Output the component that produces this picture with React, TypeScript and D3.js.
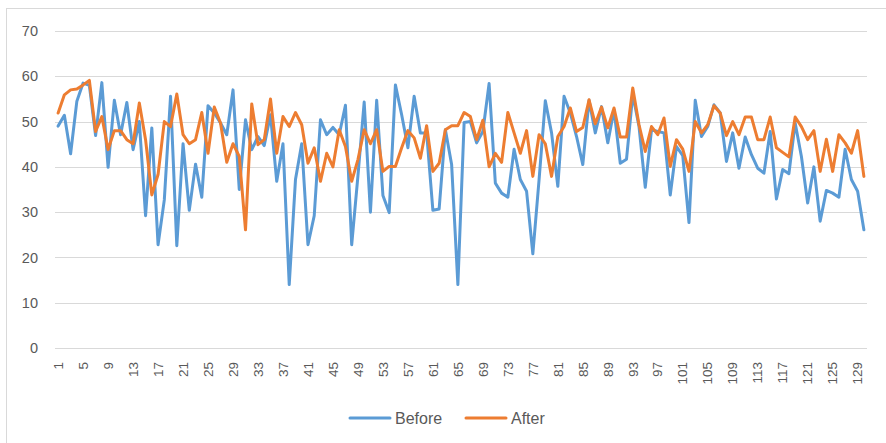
import React from 'react';
import * as d3 from 'd3';

const beforeVals: number[] = [
  49, 51.4, 42.9, 54.5, 58.5, 58, 46.9, 58.6, 39.9, 54.7,
  47.1, 54.2, 43.8, 50, 29.2, 48.6, 22.8, 32.7, 55.6, 22.6,
  45.1, 30.4, 40.6, 33.3, 53.5, 51.9, 49.7, 47.1, 57, 35,
  50.4, 43.8, 46.7, 44.7, 51.5, 36.8, 45.1, 14, 37.2, 45.1,
  22.8, 29.2, 50.4, 47.1, 48.7, 47.1, 53.6, 22.8, 38, 54.3,
  30, 54.7, 33.7, 29.9, 58.1, 51.5, 44.2, 55.6, 47.5, 47.5,
  30.4, 30.7, 48.2, 40.5, 14, 49.8, 50, 45.3, 47.8, 58.4,
  36.4, 34.2, 33.3, 43.9, 37.2, 34.6, 20.8, 37.2, 54.6, 47.5,
  35.7, 55.6, 51.9, 46.7, 40.5, 54.7, 47.5, 53.3, 45.3, 52.6,
  40.8, 41.7, 56, 48.9, 35.5, 48.2, 47.8, 47.5, 33.8, 44.5,
  42.5, 27.7, 54.7, 46.7, 48.9, 53.7, 51.9, 41.2, 47.5, 39.7,
  46.6, 42.7, 39.7, 38.6, 47.8, 32.9, 39.4, 38.5, 49.7, 42.3,
  32, 40, 28, 34.8, 34.2, 33.3, 43.9, 37.2, 34.6, 26.1,
];

const afterVals: number[] = [
  51.9, 55.9, 57, 57.2, 58.1, 59.1, 47.8, 51.1, 43.8, 48,
  48, 46, 45.1, 54.1, 46, 33.8, 38.3, 50, 48.9, 56.1,
  47.1, 45.1, 46, 52, 43, 53.2, 49.7, 41, 45.1, 42.3,
  26.1, 53.9, 44.9, 46, 55, 43, 51.1, 48.9, 52, 49.3,
  40.8, 44.2, 36.8, 43, 40, 48.2, 44.5, 36.8, 41.6, 48.2,
  45.1, 48.2, 39, 40.1, 40.1, 44.2, 48, 46.4, 41.9, 49.1,
  39, 40.8, 48.2, 49.1, 49.1, 52, 51.1, 46, 50.3, 40,
  43, 41, 52, 47.5, 43, 48, 37.9, 47.1, 45.1, 37.9,
  46.7, 48.9, 53, 47.8, 48.7, 54.8, 49.5, 53.2, 48.6, 53,
  46.6, 46.6, 57.4, 49.3, 43.4, 48.9, 47.1, 50.8, 40.1, 46,
  43.9, 39, 50, 47.5, 49.3, 53.5, 51.9, 46.9, 50, 47.1,
  51, 51, 46, 46, 51, 44.2, 43.2, 42.2, 51, 48.9,
  46, 48, 39, 46.1, 39, 47.1, 45.3, 43, 48, 37.9,
];

const categories: number[] = beforeVals.map((_, i) => i + 1);
const yTicks: number[] = [0, 10, 20, 30, 40, 50, 60, 70];
const xTickLabels: number[] = categories.filter((c) => (c - 1) % 4 === 0);

const series = [
  { name: 'Before', values: beforeVals, color: '#5B9BD5' },
  { name: 'After', values: afterVals, color: '#ED7D31' },
];

const W = 886;
const H = 443;
const FONT = '"Liberation Sans", Arial, sans-serif';
const TEXT = '#595959';

export default function App() {
  const x = d3.scalePoint<number>().domain(categories).range([55, 867]).padding(0.5);
  const y = d3.scaleLinear().domain([0, 70]).range([348, 31]);

  const line = d3
    .line<number>()
    .x((_, i) => x(categories[i]) as number)
    .y((d) => y(d));

  return (
    <svg
      width={W}
      height={H}
      style={{ position: 'absolute', left: 0, top: 0, background: '#fff' }}
      fontFamily={FONT}
    >
      <rect x={6.5} y={8.5} width={W} height={H} fill="#fff" stroke="#d9d9d9" />

      {/* gridlines and y labels */}
      {yTicks.map((t) => (
        <g key={t}>
          <line x1={55} x2={867} y1={Math.round(y(t)) + 0.5} y2={Math.round(y(t)) + 0.5} stroke="#d9d9d9" />
          <text x={38} y={y(t)} dy="0.35em" textAnchor="end" fontSize={14.5} fill={TEXT}>
            {t}
          </text>
        </g>
      ))}

      {/* x labels, rotated */}
      {xTickLabels.map((c) => (
        <text
          key={c}
          transform={`translate(${x(c)},362) rotate(-90)`}
          dy="0.35em"
          textAnchor="end"
          fontSize={13.5}
          fill={TEXT}
        >
          {c}
        </text>
      ))}

      {series.map((s) => (
        <path
          key={s.name}
          d={line(s.values) || ''}
          fill="none"
          stroke={s.color}
          strokeWidth={3}
          strokeLinejoin="round"
          strokeLinecap="round"
        />
      ))}

      {/* legend */}
      {series.map((s, i) => {
        const lx = i === 0 ? 350 : 466;
        return (
          <g key={s.name} transform={`translate(${lx},418)`}>
            <line x1={0} x2={40} y1={0} y2={0} stroke={s.color} strokeWidth={3} strokeLinecap="round" />
            <text x={45} y={0} dy="0.35em" fontSize={16} fill={TEXT}>
              {s.name}
            </text>
          </g>
        );
      })}
    </svg>
  );
}
